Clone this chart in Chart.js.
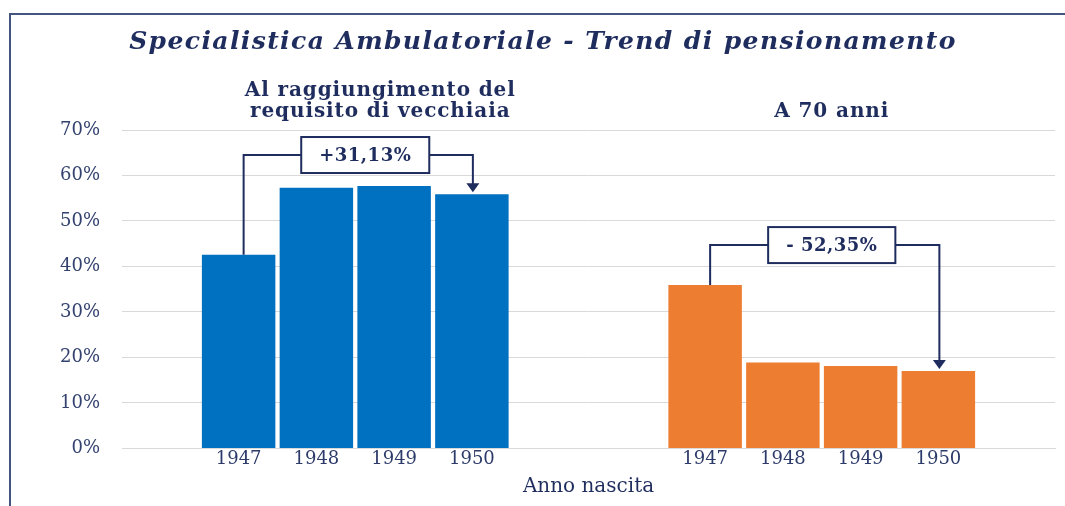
<!DOCTYPE html>
<html>
<head>
<meta charset="utf-8">
<script src="https://cdn.jsdelivr.net/npm/chart.js@4"></script>
<style>
    html, body { margin: 0; padding: 0; background: #ffffff; }
    #wrap { width: 1065px; height: 506px; position: relative; }
</style>
</head>
<body>
<div id="wrap"><canvas id="chart_pensionamento"></canvas></div>
<script>
// ****************************************************************** //
// Specialistica Ambulatoriale --- Trend di pensionamento              //
// ****************************************************************** //

const anni = ["1947", "1948", "1949", "1950"];
const vecchiaia = [42.6, 57.3, 57.7, 55.9]; // Al raggiungimento del requisito di vecchiaia
const settantaAnni = [35.9, 18.9, 18.1, 17.0]; // A 70 anni
const yTicks = [0, 10, 20, 30, 40, 50, 60, 70];
const variazioni = ["+31,13%", "- 52,35%"];
const gruppi = [["Al raggiungimento del", "requisito di vecchiaia"], ["A 70 anni"]];
const titolo = "Specialistica Ambulatoriale - Trend di pensionamento";

const NAVY = "#1f2d5e";
const SERIF = "'DejaVu Serif', 'Liberation Serif', serif";

// one empty slot at each end, two empty slots between the groups
const labels = [""].concat(anni, ["", ""], anni, [""]);
const pad = (arr, before, after) =>
    Array(before).fill(null).concat(arr, Array(after).fill(null));
const dataVecchiaia = pad(vecchiaia, 1, 7);
const dataSettanta = pad(settantaAnni, 7, 1);

// brackets: from first to last bar of each group, label box on top
const brackets = [
    { ds: 0, from: 1, to: 4, level: 64.5, text: variazioni[0] },
    { ds: 1, from: 7, to: 10, level: 44.7, text: variazioni[1] },
];

const frameAndNotes = {
    id: "frameAndNotes",
    afterDraw(chart) {
        const c = chart.ctx;
        const x = chart.scales.x;
        const y = chart.scales.y;
        c.save();

        // frame
        c.strokeStyle = "#44557f";
        c.lineWidth = 2;
        c.beginPath();
        c.moveTo(10, 506);
        c.lineTo(10, 14);
        c.lineTo(1065, 14);
        c.stroke();

        c.textAlign = "center";
        c.textBaseline = "middle";

        // title
        c.fillStyle = NAVY;
        c.font = "italic bold 25px " + SERIF;
        c.letterSpacing = "1.4px";
        c.fillText(titolo, 543, 42);

        // group headers
        c.font = "bold 20px " + SERIF;
        c.letterSpacing = "0.9px";
        const hx = [x.getPixelForValue(2.5) + 25, x.getPixelForValue(8.5) + 10];
        c.fillText(gruppi[0][0], hx[0], 91);
        c.fillText(gruppi[0][1], hx[0], 112);
        c.fillText(gruppi[1][0], hx[1], 112);

        // brackets with arrow and label box
        brackets.forEach((b) => {
            const data = chart.data.datasets[b.ds].data;
            const x1 = x.getPixelForValue(b.from) + 5;
            const x2 = x.getPixelForValue(b.to) + 1;
            const y1 = y.getPixelForValue(data[b.from]);
            const y2 = y.getPixelForValue(data[b.to]);
            const yl = y.getPixelForValue(b.level);

            c.strokeStyle = NAVY;
            c.lineWidth = 2;
            c.beginPath();
            c.moveTo(x1, y1);
            c.lineTo(x1, yl);
            c.lineTo(x2, yl);
            c.lineTo(x2, y2 - 10);
            c.stroke();

            c.fillStyle = NAVY;
            c.beginPath();
            c.moveTo(x2 - 6.5, y2 - 11);
            c.lineTo(x2 + 6.5, y2 - 11);
            c.lineTo(x2, y2 - 2);
            c.closePath();
            c.fill();

            c.font = "bold 18px " + SERIF;
            c.letterSpacing = "0.5px";
            const w = c.measureText(b.text).width + 36;
            const cx = (x1 + x2) / 2 + 7;
            c.fillStyle = "#ffffff";
            c.fillRect(cx - w / 2, yl - 18, w, 36);
            c.strokeRect(cx - w / 2, yl - 18, w, 36);
            c.fillStyle = NAVY;
            c.fillText(b.text, cx, yl + 1);
        });
        c.restore();
    },
};

const ctx = document.getElementById("chart_pensionamento").getContext("2d");
const chart_pensionamento = new Chart(ctx, {
    type: "bar",
    data: {
        labels: labels,
        datasets: [
            {
                label: "Al raggiungimento del requisito di vecchiaia",
                data: dataVecchiaia,
                backgroundColor: "#0070c0",
                grouped: false,
            },
            {
                label: "A 70 anni",
                data: dataSettanta,
                backgroundColor: "#ed7d31",
                grouped: false,
            },
        ],
    },
    options: {
        responsive: true,
        maintainAspectRatio: false,
        animation: false,
        categoryPercentage: 1.0,
        barPercentage: 0.945,
        layout: {
            padding: { left: 10, right: 10, top: 130, bottom: 0 },
        },
        plugins: {
            legend: { display: false },
            tooltip: { enabled: false },
            title: { display: false },
        },
        scales: {
            x: {
                grid: { display: false, drawTicks: false },
                border: { display: true, color: "#d9d9d9", width: 1 },
                ticks: {
                    color: "#2d3b6a",
                    font: { family: SERIF, size: 18 },
                    padding: 0,
                    autoSkip: false,
                    maxRotation: 0,
                },
                title: {
                    display: true,
                    text: "Anno nascita",
                    color: NAVY,
                    font: { family: SERIF, size: 20 },
                    padding: { top: 5, bottom: 7 },
                },
            },
            y: {
                min: 0,
                max: 70,
                afterBuildTicks: (axis) => {
                    axis.ticks = yTicks.map((v) => ({ value: v }));
                },
                afterFit: (axis) => {
                    axis.width = 112;
                },
                grid: { color: "#d9d9d9", drawTicks: false },
                border: { display: false },
                ticks: {
                    color: "#33426f",
                    font: { family: SERIF, size: 18 },
                    padding: 22,
                    callback: (v) => v + "%",
                },
            },
        },
    },
    plugins: [frameAndNotes],
});
</script>
</body>
</html>
